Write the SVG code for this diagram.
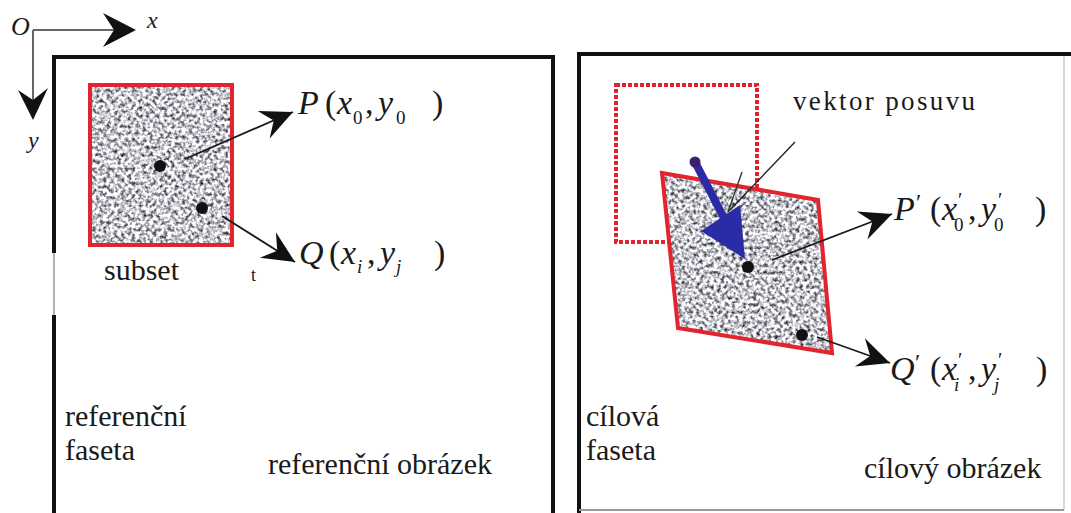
<svg xmlns="http://www.w3.org/2000/svg" width="1071" height="513" viewBox="0 0 1071 513" font-family="'Liberation Serif', 'DejaVu Serif', serif">
<style>
  text { fill: #1a1a1a; font-family: 'Liberation Serif', 'DejaVu Serif', serif; }
  .lbl { font-size: 30px; }
  .m { font-size: 34px; }
  .it { font-style: italic; }
  .sub { font-size: 19px; }
  .frame { fill: none; stroke: #111; stroke-width: 4; }
  .thin { fill: none; stroke: #999; stroke-width: 1.5; }
  .red { fill: none; stroke: #e3232e; stroke-width: 4; }
  .conn { stroke: #1a1a1a; stroke-width: 1.8; fill: none; }
  .dot { fill: #111; }
</style>
<defs>
  <filter id="speckle" x="0" y="0" width="1" height="1" color-interpolation-filters="sRGB">
    <feTurbulence type="fractalNoise" baseFrequency="0.28" numOctaves="2" seed="7" result="n"/>
    <feColorMatrix in="n" type="matrix" values="1.9 0 0 0 -0.17  1.9 0 0 0 -0.17  1.9 0 0 0 -0.14  0 0 0 0 1" result="g"/>
    <feComposite in="g" in2="SourceGraphic" operator="in"/>
  </filter>
  <marker id="stealth" viewBox="-34 -18 36 36" markerWidth="36" markerHeight="36" refX="0" refY="0" orient="auto" markerUnits="userSpaceOnUse">
    <path d="M0,0 L-32,-15 L-21,0 L-32,15 Z" fill="#111"/>
  </marker>
</defs>

<g id="axes">
  <text class="it" x="11" y="35" font-size="26" font-family="Liberation Serif">O</text>
  <line x1="33" y1="30" x2="120" y2="30" stroke="#666" stroke-width="2"/>
  <path d="M136,30 L103,13 L114,30 L103,47 Z" fill="#111"/>
  <text class="it" x="147" y="28" font-size="24" font-family="Liberation Serif">x</text>
  <line x1="33" y1="30" x2="33" y2="105" stroke="#666" stroke-width="2"/>
  <path d="M33,120 L18,90 L33,100 L48,88 Z" fill="#111"/>
  <text class="it" x="28" y="148" font-size="24" font-family="Liberation Serif">y</text>
</g>

<g id="reference-image">
  <path class="frame" d="M54,253 L54,57 L553,57 L553,513"/>
  <line x1="54" y1="253" x2="54" y2="315" class="thin"/>
  <line x1="54" y1="315" x2="54" y2="513" stroke="#111" stroke-width="4"/>
  <text class="lbl" x="268" y="474" font-family="Liberation Serif">referenční obrázek</text>
</g>

<g id="reference-facet">
  <text class="lbl" x="65" y="426" font-family="Liberation Serif">referenční</text>
  <text class="lbl" x="65" y="460" font-family="Liberation Serif">faseta</text>
</g>

<g id="subset">
  <rect x="90" y="85" width="142" height="160" fill="#888" filter="url(#speckle)"/>
  <rect class="red" x="90" y="85" width="142" height="160"/>
  <text class="lbl" x="104" y="280" font-family="Liberation Serif">subset</text>
  <text x="251" y="281" font-size="18" font-family="Liberation Serif">t</text>
</g>

<g id="point-P">
  <circle class="dot" cx="160" cy="166" r="6"/>
  <text class="m" y="114" font-family="Liberation Serif"><tspan class="it" x="298">P</tspan><tspan x="325">(</tspan><tspan class="it" x="337">x</tspan><tspan class="sub" x="353" y="124">0</tspan><tspan x="365" y="114">,</tspan><tspan class="it" x="378">y</tspan><tspan class="sub" x="396" y="124">0</tspan><tspan x="432" y="114">)</tspan></text>
</g>

<g id="point-Q">
  <circle class="dot" cx="202" cy="208" r="6"/>
  <text class="m" y="264" font-family="Liberation Serif"><tspan class="it" x="299">Q</tspan><tspan x="329">(</tspan><tspan class="it" x="341">x</tspan><tspan class="sub it" x="357" y="273">i</tspan><tspan x="367" y="264">,</tspan><tspan class="it" x="380">y</tspan><tspan class="sub it" x="396" y="273">j</tspan><tspan x="434" y="264">)</tspan></text>
</g>

<g id="target-image">
  <path class="frame" d="M579,513 L579,54 L1071,54"/>
  <line x1="1064" y1="56" x2="1064" y2="510" stroke="#ccc" stroke-width="1.5"/>
  <line x1="579" y1="510" x2="1064" y2="510" stroke="#999" stroke-width="2"/>
  <text class="lbl" x="864" y="478" font-family="Liberation Serif">cílový obrázek</text>
</g>

<g id="target-facet">
  <text class="lbl" x="586" y="426" font-family="Liberation Serif">cílová</text>
  <text class="lbl" x="586" y="460" font-family="Liberation Serif">faseta</text>
</g>

<g id="original-position">
  <rect x="616" y="85" width="141" height="157" fill="none" stroke="#e3232e" stroke-width="4" stroke-dasharray="4 2"/>
</g>

<g id="deformed-subset">
  <polygon points="662,173 818,200 832,353 678,328" fill="#888" filter="url(#speckle)"/>
  <polygon class="red" points="662,173 818,200 832,353 678,328"/>
</g>

<g id="point-P-prime">
  <circle class="dot" cx="748" cy="267" r="6"/>
  <text class="m" y="220" font-family="Liberation Serif"><tspan class="it" x="894">P</tspan><tspan x="916" y="210" font-size="24">′</tspan><tspan x="930" y="220">(</tspan><tspan class="it" x="942">x</tspan><tspan x="958" y="207" font-size="20">′</tspan><tspan class="sub" x="954" y="231">0</tspan><tspan x="968" y="220">,</tspan><tspan class="it" x="981">y</tspan><tspan x="998" y="207" font-size="20">′</tspan><tspan class="sub" x="994" y="231">0</tspan><tspan x="1035" y="220">)</tspan></text>
</g>

<g id="point-Q-prime">
  <circle class="dot" cx="802" cy="335" r="6"/>
  <text class="m" y="380" font-family="Liberation Serif"><tspan class="it" x="890">Q</tspan><tspan x="915" y="370" font-size="24">′</tspan><tspan x="930" y="380">(</tspan><tspan class="it" x="942">x</tspan><tspan x="958" y="367" font-size="20">′</tspan><tspan class="sub it" x="954" y="391">i</tspan><tspan x="968" y="380">,</tspan><tspan class="it" x="981">y</tspan><tspan x="998" y="367" font-size="20">′</tspan><tspan class="sub it" x="994" y="391">j</tspan><tspan x="1036" y="380">)</tspan></text>
</g>

<g id="displacement-vector">
  <line x1="695" y1="162" x2="724" y2="218" stroke="#2b2ba8" stroke-width="8"/>
  <polygon points="745,259 701,231 740,205" fill="#2b2ba8"/>
  <circle cx="695" cy="162" r="5.5" fill="#3b1f6e"/>
  <text x="793" y="110" font-size="27" textLength="182" lengthAdjust="spacing" font-family="Liberation Serif">vektor posuvu</text>
</g>

<g id="connectors">
  <line class="conn" x1="185" y1="159" x2="293" y2="112" marker-end="url(#stealth)"/>
  <line class="conn" x1="222" y1="216" x2="295" y2="262" marker-end="url(#stealth)"/>
  <line class="conn" x1="772" y1="260" x2="892" y2="214" marker-end="url(#stealth)"/>
  <line class="conn" x1="817" y1="337" x2="890" y2="363" marker-end="url(#stealth)"/>
  <line x1="795" y1="142" x2="728" y2="212" stroke="#222" stroke-width="1.4"/>
  <line x1="742" y1="172" x2="728" y2="212" stroke="#2d3d2d" stroke-width="1.4"/>
</g>
</svg>
